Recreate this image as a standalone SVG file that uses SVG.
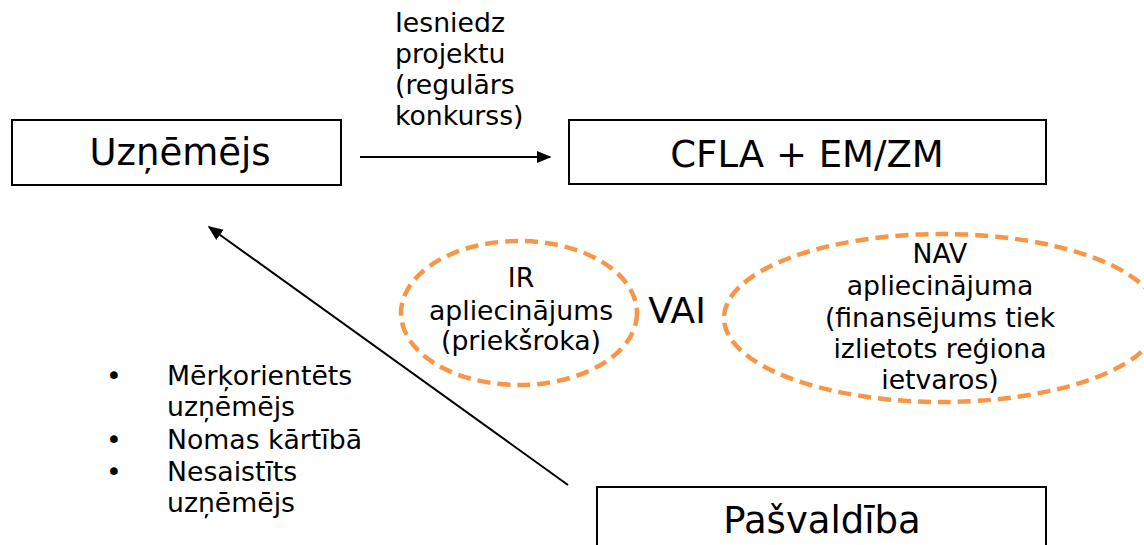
<svg xmlns="http://www.w3.org/2000/svg" width="1144" height="545" viewBox="0 0 1144 545">
<style>
text{font-family:"DejaVu Sans","Liberation Sans",sans-serif;fill:#000}
.box{fill:#fff;stroke:#000;stroke-width:2}
.big{font-size:37px;text-anchor:middle}
.sm{font-size:26.7px}
.mid{text-anchor:middle}
.oval{fill:none;stroke:#F79646;stroke-width:4.5;stroke-dasharray:13 7}
.conn{stroke:#000;stroke-width:2;fill:none}
</style>
<defs>
<marker id="ah" viewBox="0 0 10 10" refX="9" refY="5" markerWidth="15" markerHeight="15" markerUnits="userSpaceOnUse" orient="auto">
<path d="M0,0.8 L10,5 L0,9.2 z" fill="#000"/>
</marker>
</defs>
<g id="uznemejs">
<rect class="box" x="12" y="120" width="329" height="65"/>
<text class="big" x="180" y="165">Uzņēmējs</text>
</g>
<g id="cfla">
<rect class="box" x="569" y="120" width="477" height="64"/>
<text class="big" x="807" y="167">CFLA + EM/ZM</text>
</g>
<g id="pasvaldiba">
<rect class="box" x="597" y="487" width="449" height="70"/>
<text class="big" x="822" y="533">Pašvaldība</text>
</g>
<g id="ir">
<ellipse class="oval" cx="519" cy="313" rx="118" ry="72"/>
<text class="sm mid" x="521" y="287">IR</text>
<text class="sm mid" x="521" y="320">apliecinājums</text>
<text class="sm mid" x="521" y="350">(priekšroka)</text>
</g>
<g id="vai">
<text x="677" y="323" style="font-size:36px;text-anchor:middle">VAI</text>
</g>
<g id="nav">
<ellipse class="oval" cx="942" cy="318" rx="218" ry="84"/>
<text class="sm mid" x="940" y="263">NAV</text>
<text class="sm mid" x="940" y="295">apliecinājuma</text>
<text class="sm mid" x="940" y="327">(finansējums tiek</text>
<text class="sm mid" x="940" y="358">izlietots reģiona</text>
<text class="sm mid" x="940" y="389">ietvaros)</text>
</g>
<g id="bullets">
<text class="sm" x="106" y="385">•</text>
<text class="sm" x="167" y="385">Mērķorientēts</text>
<text class="sm" x="167" y="416">uzņēmējs</text>
<text class="sm" x="106" y="449">•</text>
<text class="sm" x="167" y="449">Nomas kārtībā</text>
<text class="sm" x="106" y="481">•</text>
<text class="sm" x="167" y="481">Nesaistīts</text>
<text class="sm" x="167" y="512">uzņēmējs</text>
</g>
<g id="label">
<text class="sm" x="395" y="32">Iesniedz</text>
<text class="sm" x="395" y="63">projektu</text>
<text class="sm" x="395" y="94">(regulārs</text>
<text class="sm" x="395" y="125">konkurss)</text>
</g>
<g id="connectors">
<line class="conn" x1="360" y1="157" x2="550" y2="157" marker-end="url(#ah)"/>
<line class="conn" x1="568" y1="485" x2="209" y2="227" marker-end="url(#ah)"/>
</g>
</svg>
